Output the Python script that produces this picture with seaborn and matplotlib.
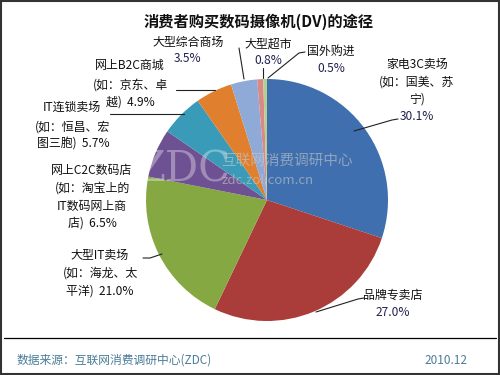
import matplotlib
matplotlib.use("Agg")
import matplotlib.pyplot as plt
import seaborn as sns
from matplotlib.patches import Rectangle
from matplotlib.lines import Line2D

sns.set_theme(style="white")
plt.rcParams['font.family'] = ['Noto Sans CJK SC', 'DejaVu Sans']

# Data
categories = ["家电3C卖场\n(如：国美、苏\n宁)", "品牌专卖店", "大型IT卖场\n(如：海龙、太\n平洋)",
              "网上C2C数码店\n(如：淘宝上的\nIT数码网上商\n店)", "IT连锁卖场\n(如：恒昌、宏\n图三胞)",
              "网上B2C商城\n(如：京东、卓\n越)", "大型综合商场", "大型超市", "国外购进"]
values = [30.1, 27.0, 21.0, 6.5, 5.7, 4.9, 3.5, 0.8, 0.5]
colors = ["#3F6FAE", "#AA3C39", "#86A843", "#6E5192", "#3A9BB8", "#E07F2E", "#8FAAD6", "#D98A88", "#B5CF8E"]
title = "消费者购买数码摄像机(DV)的途径"
source = "数据来源：互联网消费调研中心(ZDC)"
date = "2010.12"

W, H = 500, 375
fig = plt.figure(figsize=(5, 3.75), dpi=100)
fig.patch.set_facecolor("white")

def fx(x): return x / W
def fy(y): return 1 - y / H

# pie axes: center (267,200), radius 121
cx, cy, r = 267, 200, 121
ax = fig.add_axes([fx(cx - r), fy(cy + r), 2 * r / W, 2 * r / H])
ax.pie(values, colors=colors, startangle=90, counterclock=False,
       wedgeprops=dict(edgecolor="none"))
ax.set_xlim(-1, 1); ax.set_ylim(-1, 1)
ax.set_aspect("equal")
ax.axis("off")

# border and separator
fig.add_artist(Rectangle((fx(1), fy(374)), fx(498), 373 / H, transform=fig.transFigure,
                         fill=False, edgecolor="#333333", lw=1.5))
fig.add_artist(Line2D([fx(4), fx(496)], [fy(338), fy(338)], transform=fig.transFigure,
                      color="black", lw=0.9))

# title
fig.text(fx(259), fy(22), title, ha="center", va="center", fontsize=11, fontweight="bold", color="#111111")

lab_fs = 8.6
pct_color = "#202050"

def put(x, y, s, color="#111111", ha="center"):
    fig.text(fx(x), fy(y), s, ha=ha, va="center", fontsize=lab_fs, color=color)

def pct(v):
    return f"{v:.1f}%"

# 家电3C卖场
lines0 = categories[0].split("\n")
put(417, 64, lines0[0]); put(417, 82, lines0[1]); put(417, 99, lines0[2])
put(417, 116, pct(values[0]), pct_color)
# 品牌专卖店
put(393, 295, categories[1]); put(393, 313, pct(values[1]), pct_color)
# 大型IT卖场
l2 = categories[2].split("\n")
put(100, 255, l2[0]); put(100, 273, l2[1])
put(100, 291, l2[2] + "  " + pct(values[2]))
# 网上C2C
l3 = categories[3].split("\n")
put(92, 170, l3[0]); put(92, 188, l3[1]); put(92, 206, l3[2])
put(92, 223, l3[3] + "  " + pct(values[3]))
# IT连锁
l4 = categories[4].split("\n")
put(72, 107, l4[0]); put(73, 127, l4[1]); put(73, 144, l4[2] + "  " + pct(values[4]))
# B2C
l5 = categories[5].split("\n")
put(130, 65, l5[0]); put(130, 85, l5[1]); put(130, 102, l5[2] + "  " + pct(values[5]))
# 大型综合商场
put(188, 42, categories[6]); put(188, 59, pct(values[6]), pct_color)
# 大型超市
put(268, 44, categories[7]); put(268, 61, pct(values[7]), pct_color)
# 国外购进
put(331, 51, categories[8]); put(331, 68, pct(values[8]), pct_color)

def leader(pts):
    xs = [fx(p[0]) for p in pts]; ys = [fy(p[1]) for p in pts]
    fig.add_artist(Line2D(xs, ys, transform=fig.transFigure, color="#222222", lw=0.8))

leader([(398, 119), (392, 120), (354, 131)])
leader([(364, 298), (358, 299), (316, 312)])
leader([(143, 258), (150, 258), (162, 254)])
leader([(110, 114), (184, 114)])
leader([(176, 90), (215, 90)])
leader([(239, 48), (244, 79)])
leader([(263, 68), (263, 78)])
leader([(305, 52), (299, 53), (268, 78)])

# watermark
fig.text(fx(136), fy(170), "ZDC", ha="left", va="center", fontsize=30, family="DejaVu Serif",
         color="white", alpha=0.35)
fig.text(fx(221), fy(161), "互联网消费调研中心", ha="left", va="center", fontsize=10.5, color="#C8C8C8", alpha=0.6)
fig.text(fx(221), fy(180), "zdc.zol.com.cn", ha="left", va="center", fontsize=9.5, color="#C8C8C8", alpha=0.6)

# footer
fig.text(fx(17), fy(360), source, ha="left", va="center", fontsize=8.5, color="#4A7C99")
fig.text(fx(467), fy(360), date, ha="right", va="center", fontsize=8.5, color="#4A7C99")

fig.savefig("out.png", dpi=100)
